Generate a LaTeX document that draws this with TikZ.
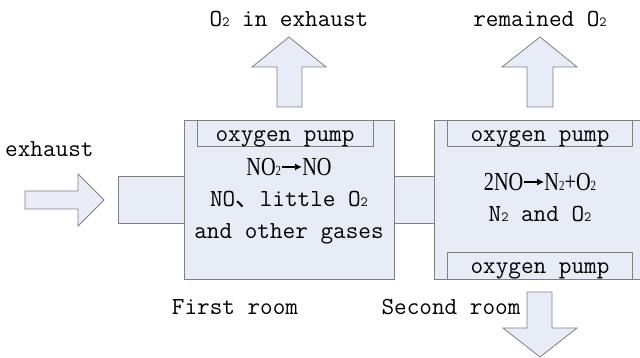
\documentclass[tikz,border=0pt]{standalone}
\usepackage{fontspec,graphicx}
\usetikzlibrary{arrows.meta}
\newfontfamily\cjk{Noto Sans CJK SC}
\newfontfamily\chemfont{Liberation Serif}
\definecolor{roomblue}{RGB}{231,236,247}
\definecolor{linegray}{RGB}{128,128,128}
\newcommand\lo[1]{{\fontsize{14}{14}\selectfont #1}}
\newcommand\yields{\tikz[baseline=-9pt,x=1pt,y=1pt]\draw[line width=1.1pt,-{Latex[length=9pt,width=7pt]}] (1,0) -- (27,0);}
\newcommand\narrow[1]{\scalebox{.78}[1]{#1}}
\begin{document}
\begin{tikzpicture}[x=1pt,y=-1pt,
  room/.style={draw=linegray,fill=roomblue,anchor=north west,inner sep=0pt,line width=.8pt},
  pumpbox/.style={draw=linegray,fill=roomblue,anchor=north west,inner sep=0pt,line width=.8pt},
  blockarrow/.style={draw=linegray,fill=roomblue,line width=.8pt,line join=miter},
  txt/.style={font=\fontsize{24.5}{26}\selectfont\ttfamily,inner sep=0pt,anchor=base},
  chem/.style={font=\fontsize{26}{28}\selectfont\chemfont,inner sep=0pt,anchor=base}]
\useasboundingbox (0,0) rectangle (640,358);
\clip (0,0) rectangle (640,358);
% pipes and rooms
\node[room,minimum width=66,minimum height=47] (inlet) at (118,176) {};
\node[room,minimum width=40,minimum height=47] (pipe) at (394,176) {};
\node[room,minimum width=210,minimum height=159] (first) at (184,120) {};
\node[room,minimum width=220,minimum height=159] (second) at (434,120) {};
\node[pumpbox,minimum width=176,minimum height=26] (pumpA) at (197,120) {};
\node[pumpbox,minimum width=185,minimum height=26] (pumpB) at (447,120) {};
\node[pumpbox,minimum width=185,minimum height=27] (pumpC) at (447,252) {};
% block arrows
\draw[blockarrow] (25,191)--(78,191)--(78,174)--(104,200)--(78,226)--(78,209)--(25,209)--cycle;
\draw[blockarrow] (277,107)--(277,67)--(252,67)--(289,37)--(326,67)--(302,67)--(302,107)--cycle;
\draw[blockarrow] (527,107)--(527,67)--(502,67)--(540,37)--(577,67)--(553,67)--(553,107)--cycle;
\draw[blockarrow] (527,292)--(527,328)--(503,328)--(540,357)--(577,328)--(552,328)--(552,292)--cycle;
% texts
\node[txt] (outA) at (289,27) {O\lo{2} in exhaust};
\node[txt] (outB) at (540,27) {remained O\lo{2}};
\node[txt,anchor=base west] (inA) at (5,157) {exhaust};
\node[txt] (nameA) at (235,314) {First room};
\node[txt] (nameB) at (451,314) {Second room};
\node[txt] (pumpAtxt) at (285,142) {oxygen pump};
\node[txt] (pumpBtxt) at (540,142) {oxygen pump};
\node[txt] (pumpCtxt) at (540,273) {oxygen pump};
\node[chem] (reactA) at (289,176) {\narrow{NO\lo{2}\yields NO}};
\node[txt] (gasA) at (289,207) {NO{\cjk 、}little O\lo{2}};
\node[txt] (gasB) at (289,239) {and other gases};
\node[chem] (reactB) at (540,191) {\narrow{2NO\yields N\lo{2}+O\lo{2}}};
\node[txt] (gasC) at (540,222) {N\lo{2} and O\lo{2}};
\end{tikzpicture}
\end{document}
